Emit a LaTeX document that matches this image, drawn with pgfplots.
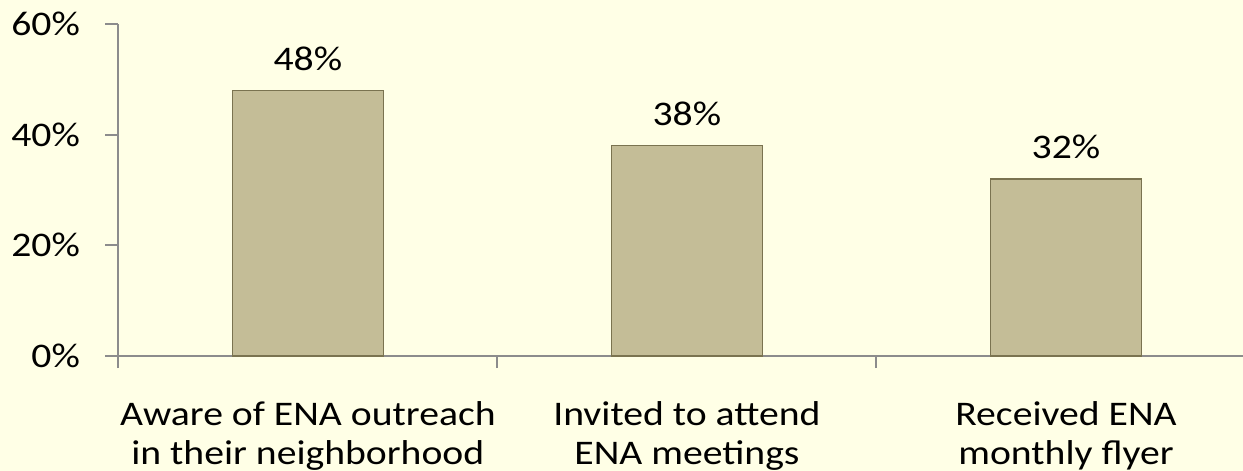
\documentclass[border=0pt]{standalone}
\usepackage{fontspec}
\setmainfont{Carlito}[FakeStretch=1.15]
\usepackage{pgfplots}
\pgfplotsset{compat=1.18}
\definecolor{bg}{HTML}{FFFFE6}
\definecolor{barfill}{HTML}{C4BD97}
\definecolor{baredge}{HTML}{7A7350}
\definecolor{axisgray}{HTML}{8C8C8C}
\begin{document}
\begin{tikzpicture}[font=\fontsize{17.25}{19.4}\selectfont]
\fill[bg] (-59.15pt,-57.5pt) rectangle (562.35pt,178pt);
\useasboundingbox (-59.15pt,-57.5pt) rectangle (562.35pt,178pt);
\begin{axis}[
  at={(0,0)}, anchor=south west,
  scale only axis, width=562.35pt, height=166pt,
  xmin=-0.5, xmax=2.467, ymin=0, ymax=60,
  axis x line*=bottom, axis y line*=left,
  axis line style={draw=axisgray, line width=1pt, -},
  ytick={0,20,40,60},
  yticklabel={\pgfmathprintnumber{\tick}\%},
  xtick={0,1,2},
  xticklabels={{Aware of ENA outreach\\in their neighborhood},
               {Invited to attend\\ENA meetings},
               {Received ENA\\monthly flyer}},
  minor xtick={-0.5,0.5,1.5},
  tick align=outside,
  major tick length=6.5pt, minor tick length=6pt,
  tick style={draw=axisgray, line width=1pt},
  major x tick style={draw=none},
  xticklabel style={align=center, anchor=north, inner sep=0pt, yshift=-16pt},
  yticklabel style={anchor=east, inner sep=0pt, xshift=-12.5pt},
  /pgf/number format/assume math mode=true,
  ybar, bar width=75.5pt,
  nodes near coords={\pgfmathprintnumber{\pgfplotspointmeta}\%},
  nodes near coords style={anchor=south, inner sep=0pt, yshift=9.7pt, text depth=0pt},
]
\addplot[fill=barfill, draw=baredge, line width=0.75pt] coordinates {(0,48) (1,38) (2,32)};
\end{axis}
\end{tikzpicture}
\end{document}
